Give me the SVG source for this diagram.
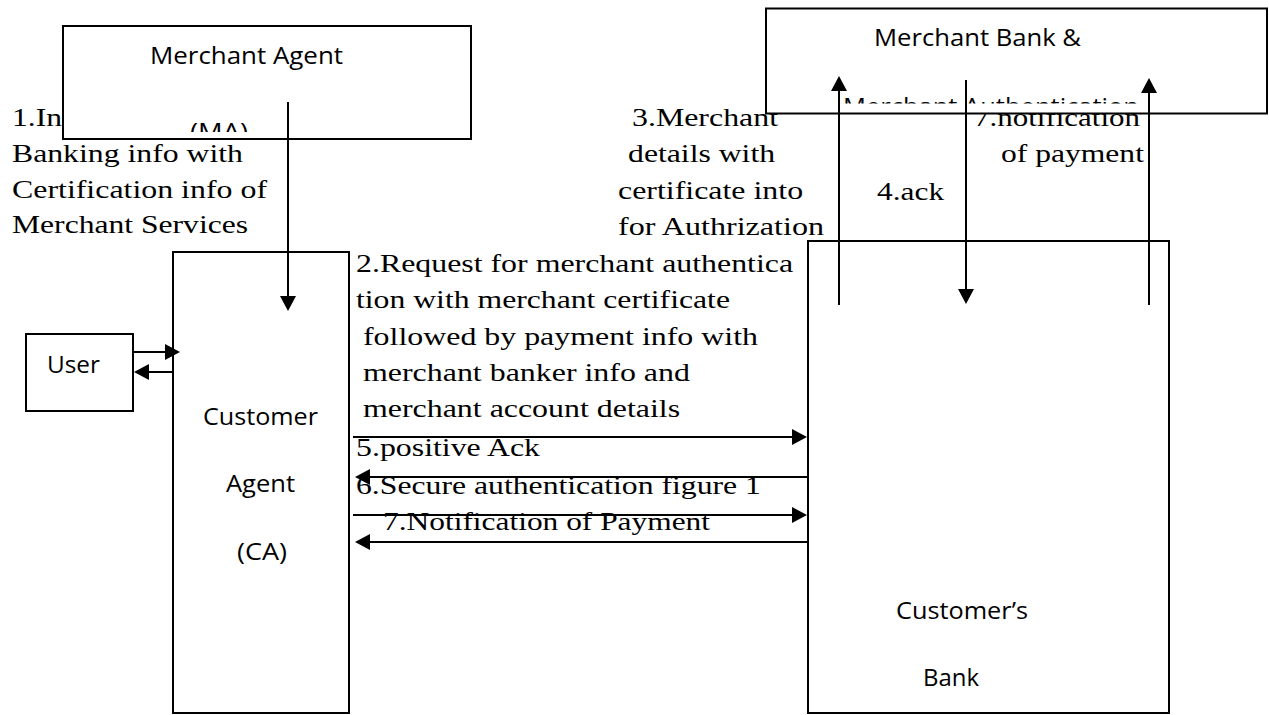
<svg xmlns="http://www.w3.org/2000/svg" width="1269" height="715" viewBox="0 0 1269 715">
  <style>
    .box { fill: #fff; stroke: #000; stroke-width: 2; }
    .sans { font-family: "Open Sans", "Liberation Sans", sans-serif; font-size: 24px; fill: #000; }
    .serif { font-family: "Liberation Serif", "Times New Roman", serif; font-size: 25px; fill: #000; }
    .conn { stroke: #000; stroke-width: 2; fill: none; marker-end: url(#head); }
  </style>
  <defs>
    <marker id="head" markerUnits="userSpaceOnUse" markerWidth="15" markerHeight="16" refX="7" refY="8" orient="auto">
      <path d="M0,0 L15,8 L0,16 z" fill="#000"/>
    </marker>
    <!-- inner text areas of the two top boxes: overflowing lines get cut -->
    <clipPath id="clipMA"><rect x="64" y="27" width="406" height="105"/></clipPath>
    <clipPath id="clipMB"><rect x="767" y="9" width="499" height="94.5"/></clipPath>
  </defs>
  <rect width="1269" height="715" fill="#fff"/>

  <!-- message labels; the serif labels are drawn in a horizontally widened face -->
  <g id="labels" transform="scale(1.32,1)">
    <text class="serif" x="9.09" y="126" textLength="37.9" lengthAdjust="spacingAndGlyphs">1.In</text>
    <text class="serif" x="9.09" y="162" textLength="175" lengthAdjust="spacingAndGlyphs">Banking info with</text>
    <text class="serif" x="9.09" y="198" textLength="193.2" lengthAdjust="spacingAndGlyphs">Certification info of</text>
    <text class="serif" x="9.09" y="233" textLength="178.8" lengthAdjust="spacingAndGlyphs">Merchant Services</text>

    <text class="serif" x="269.7" y="272" textLength="331.1" lengthAdjust="spacingAndGlyphs">2.Request for merchant authentica</text>
    <text class="serif" x="269.7" y="308" textLength="283.3" lengthAdjust="spacingAndGlyphs">tion with merchant certificate</text>
    <text class="serif" x="275" y="345" textLength="299.2" lengthAdjust="spacingAndGlyphs">followed by payment info with</text>
    <text class="serif" x="275" y="381" textLength="247.7" lengthAdjust="spacingAndGlyphs">merchant banker info and</text>
    <text class="serif" x="275" y="417" textLength="240.2" lengthAdjust="spacingAndGlyphs">merchant account details</text>
    <text class="serif" x="269.7" y="456" textLength="139.4" lengthAdjust="spacingAndGlyphs">5.positive Ack</text>
    <text class="serif" x="269.7" y="494" textLength="306.8" lengthAdjust="spacingAndGlyphs">6.Secure authentication figure 1</text>
    <text class="serif" x="290.2" y="530" textLength="247.7" lengthAdjust="spacingAndGlyphs">7.Notification of Payment</text>

    <text class="serif" x="478.8" y="126" textLength="110.6" lengthAdjust="spacingAndGlyphs">3.Merchant</text>
    <text class="serif" x="475.8" y="162" textLength="111.4" lengthAdjust="spacingAndGlyphs">details with</text>
    <text class="serif" x="468.2" y="199" textLength="140.2" lengthAdjust="spacingAndGlyphs">certificate into</text>
    <text class="serif" x="468.2" y="235" textLength="156.1" lengthAdjust="spacingAndGlyphs">for Authrization</text>
    <text class="serif" x="664.4" y="200" textLength="50.8" lengthAdjust="spacingAndGlyphs">4.ack</text>
    <text class="serif" x="737.9" y="126" textLength="125.8" lengthAdjust="spacingAndGlyphs">7.notification</text>
    <text class="serif" x="758.3" y="162" textLength="108.3" lengthAdjust="spacingAndGlyphs">of payment</text>
  </g>

  <!-- nodes -->
  <g id="merchant-agent">
    <rect class="box" x="63" y="26" width="408" height="113"/>
    <text class="sans" x="150" y="64" textLength="193" lengthAdjust="spacingAndGlyphs">Merchant Agent</text>
    <text class="sans" x="190" y="140" textLength="58" lengthAdjust="spacingAndGlyphs" clip-path="url(#clipMA)">(MA)</text>
  </g>

  <g id="merchant-bank">
    <rect class="box" x="766" y="8.5" width="501" height="105"/>
    <text class="sans" x="874" y="46" textLength="207" lengthAdjust="spacingAndGlyphs">Merchant Bank &amp;</text>
    <text class="sans" x="843" y="115" textLength="296" lengthAdjust="spacingAndGlyphs" clip-path="url(#clipMB)">Merchant Authentication</text>
  </g>

  <g id="user">
    <rect class="box" x="26" y="334" width="107" height="77"/>
    <text class="sans" x="47" y="373" textLength="53" lengthAdjust="spacingAndGlyphs">User</text>
  </g>

  <g id="customer-agent">
    <rect class="box" x="173" y="252" width="176" height="461"/>
    <text class="sans" x="203" y="425" textLength="115" lengthAdjust="spacingAndGlyphs">Customer</text>
    <text class="sans" x="226" y="492" textLength="69" lengthAdjust="spacingAndGlyphs">Agent</text>
    <text class="sans" x="237" y="560" textLength="50" lengthAdjust="spacingAndGlyphs">(CA)</text>
  </g>

  <g id="customer-bank">
    <rect class="box" x="808" y="241" width="361" height="472"/>
    <text class="sans" x="896" y="619" textLength="132" lengthAdjust="spacingAndGlyphs">Customer’s</text>
    <text class="sans" x="923" y="686" textLength="56" lengthAdjust="spacingAndGlyphs">Bank</text>
  </g>

  <!-- connectors -->
  <g id="connectors">
    <line class="conn" x1="288" y1="102" x2="288" y2="303"/>
    <line class="conn" x1="133" y1="352" x2="172" y2="352"/>
    <line class="conn" x1="173" y1="372" x2="142" y2="372"/>
    <line class="conn" x1="839" y1="305" x2="839" y2="84"/>
    <line class="conn" x1="966" y1="80" x2="966" y2="296"/>
    <line class="conn" x1="1149" y1="305" x2="1149" y2="86"/>
    <line class="conn" x1="353" y1="437" x2="799" y2="437"/>
    <line class="conn" x1="808" y1="477" x2="363" y2="477"/>
    <line class="conn" x1="353" y1="515" x2="799" y2="515"/>
    <line class="conn" x1="808" y1="542" x2="363" y2="542"/>
  </g>
</svg>
